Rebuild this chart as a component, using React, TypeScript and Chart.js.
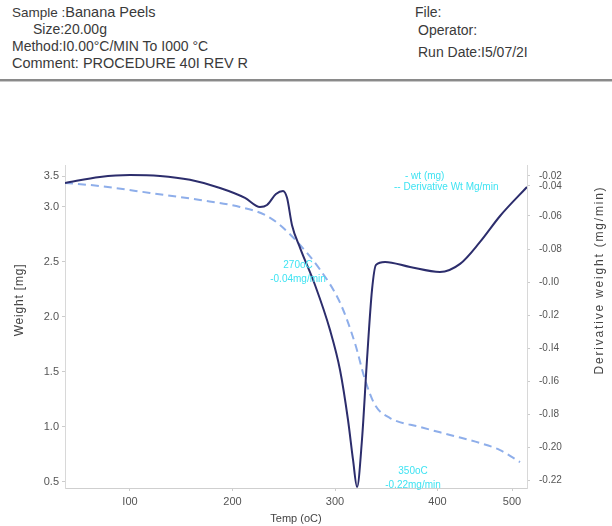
import React, { useEffect, useRef } from "react";
import { Chart, registerables } from "chart.js";

Chart.register(...registerables);

// Temperature (°C) of each sample point
const derivTemps = [36.6, 70.7, 100, 129.3, 158.5, 187.8, 212.2, 226.8, 233.7, 242.4, 249.3, 253.2, 258, 265.9, 280.5, 295.1, 304.9, 312.7, 317.6, 321.5, 326.3, 331.2, 336.1, 340, 348.8, 373.2, 402.4, 422, 441.5, 461, 487.3];
// Derivative weight (mg/min), solid navy line (right axis)
const derivValues = [-0.04, -0.0363, -0.0351, -0.0357, -0.0381, -0.043, -0.049, -0.0545, -0.0533, -0.0467, -0.0448, -0.049, -0.0654, -0.0793, -0.1018, -0.129, -0.1533, -0.1836, -0.2078, -0.2242, -0.1957, -0.1472, -0.1048, -0.0896, -0.0878, -0.0909, -0.0939, -0.089, -0.0757, -0.06, -0.0424];

const weightTemps = [36.6, 70.7, 119.5, 168.3, 207.3, 231.7, 246.3, 265.9, 285.4, 304.9, 319.5, 329.3, 339, 353.7, 382.9, 412.2, 441.5, 461, 480.5];
// Weight (mg), dashed light-blue line (left axis)
const weightValues = [3.218, 3.19, 3.127, 3.063, 3.0, 2.927, 2.836, 2.654, 2.43, 2.13, 1.76, 1.43, 1.2, 1.081, 1.0, 0.927, 0.854, 0.79, 0.681];

const xTickValues = [100, 200, 300, 400, 472.7];
const xTickLabels = ["I00", "200", "300", "400", "500"];
const leftTickValues = [0.5, 1.0, 1.5, 2.0, 2.5, 3.0, 3.28];
const leftTickLabels = ["0.5", "1.0", "1.5", "2.0", "2.5", "3.0", "3.5"];
const rightTickValues = [-0.22, -0.2, -0.18, -0.16, -0.14, -0.12, -0.1, -0.08, -0.06, -0.0418, -0.0357];
const rightTickLabels = ["-0.22", "-0.20", "-0.I8", "-0.I6", "-0.I4", "-0.I2", "-0.I0", "-0.08", "-0.06", "-0.04", "-0.02"];

const legendLines = ["- wt (mg)", "-- Derivative Wt Mg/min"];
const notes = [
  { lines: ["270oC", "-0.04mg/min"], dx: 233, dy: 100 },
  { lines: ["350oC", "-0.22mg/min"], dx: 348, dy: 306 },
];

const CYAN = "#3fe3f2";
const TICK = "#555";

export default function App() {
  const ref = useRef<HTMLCanvasElement | null>(null);

  useEffect(() => {
    document.body.style.margin = "0";
    const canvas = ref.current!;
    const overlay = {
      id: "overlay",
      afterDraw(chart: any) {
        const ctx = chart.ctx as any;
        const a = chart.chartArea;
        ctx.save();
        ctx.fillStyle = CYAN;
        ctx.font = "10px 'Liberation Sans', Arial, sans-serif";
        ctx.textBaseline = "middle";
        ctx.textAlign = "left";
        ctx.fillText(legendLines[0], a.left + 340, a.top + 11);
        ctx.fillText(legendLines[1], a.left + 329, a.top + 22);
        ctx.textAlign = "center";
        for (const n of notes) {
          n.lines.forEach((t: string, i: number) => ctx.fillText(t, a.left + n.dx, a.top + n.dy + i * 14));
        }
        ctx.restore();

        ctx.save();
        ctx.fillStyle = "#444";
        ctx.font = "12px 'Liberation Sans', Arial, sans-serif";
        ctx.letterSpacing = "0.8px";
        ctx.textAlign = "center";
        ctx.textBaseline = "middle";
        ctx.translate(20, 210);
        ctx.rotate(-Math.PI / 2);
        ctx.fillText("Weight [mg]", 0, 0);
        ctx.restore();

        ctx.save();
        ctx.fillStyle = "#444";
        ctx.font = "12px 'Liberation Sans', Arial, sans-serif";
        ctx.letterSpacing = "1.8px";
        ctx.textAlign = "center";
        ctx.textBaseline = "middle";
        ctx.translate(600, 190);
        ctx.rotate(-Math.PI / 2);
        ctx.fillText("Derivative weight (mg/min)", 0, 0);
        ctx.restore();
      },
    };

    const chart = new Chart(canvas, {
      type: "line",
      data: {
        datasets: [
          {
            label: "Derivative Wt",
            data: derivTemps.map((t, i) => ({ x: t, y: derivValues[i] })),
            yAxisID: "y1",
            borderColor: "#2c2d6c",
            borderWidth: 2,
            pointRadius: 0,
            cubicInterpolationMode: "monotone",
          },
          {
            label: "wt",
            data: weightTemps.map((t, i) => ({ x: t, y: weightValues[i] })),
            yAxisID: "y",
            borderColor: "#8eaeea",
            borderWidth: 2,
            borderDash: [8, 5],
            pointRadius: 0,
            cubicInterpolationMode: "monotone",
          },
        ],
      },
      options: {
        animation: false,
        responsive: false,
        maintainAspectRatio: false,
        layout: { padding: { top: 75, left: 0, right: 0, bottom: 0 } },
        plugins: { legend: { display: false }, tooltip: { enabled: false } },
        scales: {
          x: {
            type: "linear",
            min: 36.6,
            max: 487.3,
            afterBuildTicks: (s: any) => {
              s.ticks = xTickValues.map((v) => ({ value: v }));
            },
            afterFit: (s: any) => {
              s.height = 38;
            },
            ticks: {
              autoSkip: false,
              maxRotation: 0,
              color: TICK,
              font: { size: 11, family: "'Liberation Sans', Arial" },
              padding: 4,
              callback: (_v: any, i: number) => xTickLabels[i],
            },
            grid: { display: true, drawOnChartArea: false, tickLength: 3, color: "#ccc" },
            border: { color: "#cfcfcf" },
            title: {
              display: true,
              text: "Temp (oC)",
              color: "#444",
              font: { size: 11, family: "'Liberation Sans', Arial" },
              padding: { top: 2, bottom: 0 },
            },
          },
          y: {
            type: "linear",
            position: "left",
            min: 0.445,
            max: 3.381,
            afterBuildTicks: (s: any) => {
              s.ticks = leftTickValues.map((v) => ({ value: v }));
            },
            afterFit: (s: any) => {
              s.width = 65;
            },
            ticks: {
              autoSkip: false,
              color: TICK,
              font: { size: 11, family: "'Liberation Sans', Arial" },
              padding: 3,
              callback: (_v: any, i: number) => leftTickLabels[i],
            },
            grid: { display: true, drawOnChartArea: false, tickLength: 3, color: "#ccc" },
            border: { color: "#d8d8d8" },
          },
          y1: {
            type: "linear",
            position: "right",
            min: -0.2248,
            max: -0.0291,
            afterBuildTicks: (s: any) => {
              s.ticks = rightTickValues.map((v) => ({ value: v }));
            },
            afterFit: (s: any) => {
              s.width = 85;
            },
            ticks: {
              autoSkip: false,
              color: TICK,
              font: { size: 10, family: "'Liberation Sans', Arial" },
              padding: 9,
              callback: (_v: any, i: number) => rightTickLabels[i],
            },
            grid: { display: true, drawOnChartArea: false, tickLength: 3, color: "#ccc" },
            border: { color: "#d8d8d8" },
          },
        },
      },
      plugins: [overlay],
    } as any);
    return () => chart.destroy();
  }, []);

  const txt: React.CSSProperties = {
    position: "absolute",
    fontFamily: "'Liberation Sans', Arial, sans-serif",
    fontSize: 14,
    color: "#3a3a3a",
    whiteSpace: "nowrap",
    lineHeight: "16px",
  };

  return (
    <div style={{ position: "relative", width: 612, height: 526, background: "#fff", overflow: "hidden" }}>
      <div style={{ ...txt, left: 12, top: 4, fontSize: 13.5 }}>Sample :<span style={{ fontSize: 14.5 }}>Banana Peels</span></div>
      <div style={{ ...txt, left: 33, top: 21 }}>Size:20.00g</div>
      <div style={{ ...txt, left: 12, top: 38, fontSize: 14 }}>Method:I0.00°C/MIN To I000 °C</div>
      <div style={{ ...txt, left: 12, top: 55, fontSize: 14.5 }}>Comment: PROCEDURE 40I REV R</div>
      <div style={{ ...txt, left: 415, top: 4 }}>File:</div>
      <div style={{ ...txt, left: 418, top: 22 }}>Operator:</div>
      <div style={{ ...txt, left: 418, top: 44 }}>Run Date:I5/07/2I</div>
      <div style={{ position: "absolute", left: 0, top: 79, width: 612, height: 2, background: "#8a8a8a" }} />
      <div style={{ position: "absolute", left: 0, top: 81, width: 612, height: 1, background: "#c8c8c8" }} />
      <canvas ref={ref} width={612} height={436} style={{ position: "absolute", left: 0, top: 90, width: 612, height: 436 }} />
    </div>
  );
}
